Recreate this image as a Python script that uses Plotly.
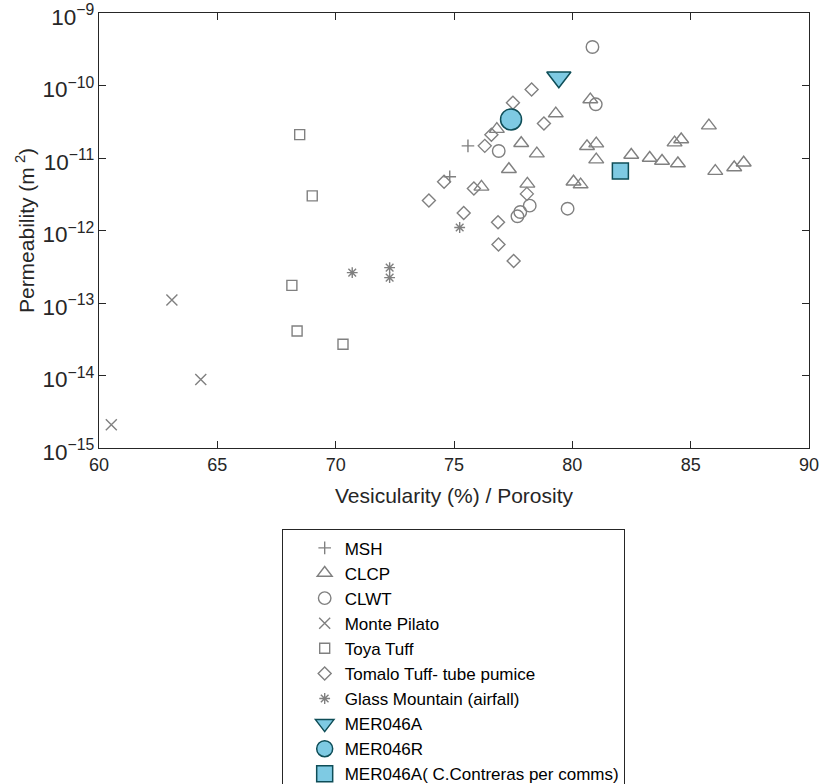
import math
import plotly.graph_objects as go

# Vesicularity (%) and permeability (m^2) per sample group
msh_x = [75.59, 74.82]
msh_y = [1.47e-11, 5.5e-12]

clcp_x = [76.81, 77.84, 78.50, 79.30, 80.76, 80.62, 81.01, 81.01, 77.32, 76.16, 78.10, 80.05,
          80.35, 85.77, 84.32, 84.60, 82.49, 83.27, 83.79, 84.46, 86.04, 86.84, 87.24]
clcp_y = [2.5e-11, 1.6e-11, 1.15e-11, 4.1e-11, 6.4e-11, 1.45e-11, 1.58e-11, 9.5e-12, 7.0e-12, 4.0e-12,
          4.4e-12, 4.7e-12, 4.3e-12, 2.8e-11, 1.63e-11, 1.8e-11, 1.1e-11, 1.0e-11, 9.1e-12, 8.4e-12,
          6.6e-12, 7.4e-12, 8.6e-12]

clwt_x = [80.85, 80.99, 76.89, 78.20, 77.80, 77.68, 79.80]
clwt_y = [3.4e-10, 5.5e-11, 1.25e-11, 2.2e-12, 1.8e-12, 1.57e-12, 2.0e-12]

pilato_x = [63.08, 64.30, 60.52]
pilato_y = [1.1e-13, 8.8e-15, 2.1e-15]

toya_x = [68.48, 69.01, 68.15, 68.37, 70.31]
toya_y = [2.1e-11, 3.0e-12, 1.75e-13, 4.1e-14, 2.7e-14]

tomalo_x = [78.28, 77.49, 78.80, 76.58, 76.30, 74.58, 73.94, 75.84, 78.08, 75.41, 76.86, 76.88, 77.52]
tomalo_y = [8.8e-11, 5.8e-11, 3.0e-11, 2.1e-11, 1.47e-11, 4.7e-12, 2.6e-12, 3.8e-12, 3.2e-12,
            1.74e-12, 1.3e-12, 6.4e-13, 3.8e-13]

glass_x = [75.24, 70.70, 72.28, 72.28]
glass_y = [1.1e-12, 2.62e-13, 3.08e-13, 2.24e-13]

mer046a_x = [79.43]
mer046a_y = [1.3e-10]
mer046r_x = [77.41]
mer046r_y = [3.4e-11]
mer046a_cc_x = [82.03]
mer046a_cc_y = [6.6e-12]

x_ticks = [60, 65, 70, 75, 80, 85, 90]
decades = [-15, -14, -13, -12, -11, -10]

GRAY = "#808080"
FILL = "#7ecae3"
EDGE = "#0e4d57"
AX = "#262626"
FONT = "Liberation Sans, Arial, Helvetica, sans-serif"

fig = go.Figure()


def add_open(name, xs, ys, symbol, size):
    # open symbols take their stroke colour from marker.color
    fig.add_trace(go.Scatter(
        x=xs, y=ys, mode="markers", name=name,
        marker=dict(symbol=symbol, size=size, color=GRAY,
                    line=dict(color=GRAY, width=1.4)),
    ))


add_open("MSH", msh_x, msh_y, "cross-thin-open", 9)
add_open("CLCP", clcp_x, clcp_y, "triangle-up-open", 13)
add_open("CLWT", clwt_x, clwt_y, "circle-open", 12.5)
add_open("Monte Pilato", pilato_x, pilato_y, "x-thin-open", 11)
add_open("Toya Tuff", toya_x, toya_y, "square-open", 10)
add_open("Tomalo Tuff- tube pumice", tomalo_x, tomalo_y, "diamond-open", 10)
add_open("Glass Mountain (airfall)", glass_x, glass_y, "asterisk-open", 9)


def add_filled(name, xs, ys, symbol, size):
    fig.add_trace(go.Scatter(
        x=xs, y=ys, mode="markers", name=name,
        marker=dict(symbol=symbol, size=size, color=FILL,
                    line=dict(color=EDGE, width=1.5)),
    ))


add_filled("MER046A", mer046a_x, mer046a_y, "triangle-down", 21)
add_filled("MER046R", mer046r_x, mer046r_y, "circle", 21)
add_filled("MER046A( C.Contreras per comms)", mer046a_cc_x, mer046a_cc_y, "square", 16)

axis_common = dict(
    showline=True, linecolor=AX, linewidth=1.2, mirror="ticks",
    ticks="inside", ticklen=7, tickwidth=1, tickcolor=AX,
    showgrid=False, zeroline=False, ticklabeloverflow="allow",
    tickfont=dict(family=FONT, size=18, color=AX),
)

fig.update_xaxes(
    range=[60, 90], tickvals=x_ticks,
    title=dict(text="Vesicularity (%) / Porosity", standoff=14,
               font=dict(family=FONT, size=21, color=AX)),
    **axis_common,
)
fig.update_yaxes(
    type="log", range=[-15, -9], dtick=1, exponentformat="power",
    ticklabelshift=4,
    title=dict(text="Permeability (m<sup> 2</sup>)", standoff=2,
               font=dict(family=FONT, size=21, color=AX)),
    **axis_common,
)

# minor log ticks (2..9 in every decade) on the left and right frame edges
for d in decades:
    for k in range(2, 10):
        ly = d + math.log10(k)
        for anchor, x0, x1 in ((0, 0, 4), (1, -4, 0)):
            fig.add_shape(
                type="line", xref="paper", yref="y", xsizemode="pixel", xanchor=anchor,
                x0=x0, x1=x1, y0=ly, y1=ly, line=dict(color=AX, width=1),
            )

fig.update_layout(
    width=824, height=784,
    margin=dict(l=99, r=15, t=13, b=336, autoexpand=False),
    paper_bgcolor="white", plot_bgcolor="white",
    font=dict(family=FONT, color=AX),
    legend=dict(
        x=0.2573, y=-0.187, xanchor="left", yanchor="top",
        bordercolor=AX, borderwidth=1, bgcolor="white",
        font=dict(family=FONT, size=17, color="#000000"),
        indentation=22, tracegroupgap=0,
    ),
)

fig.write_html("out.html")
